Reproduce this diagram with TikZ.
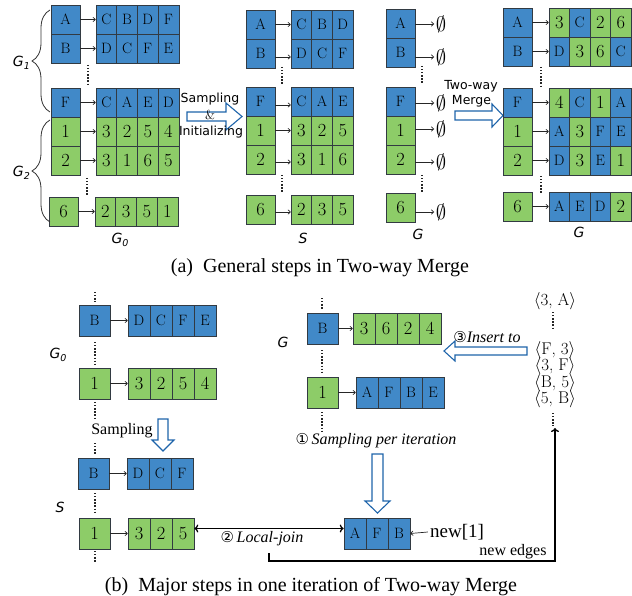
\documentclass[tikz,border=0pt]{standalone}
\usepackage{fontspec}
\newfontfamily\sansf{DejaVu Sans}
\newfontfamily\timesf{Liberation Serif}
\usetikzlibrary{decorations.pathreplacing,arrows.meta}
\definecolor{cb}{RGB}{65,137,200}
\definecolor{cg}{RGB}{141,204,104}
\definecolor{cborder}{RGB}{50,58,66}
\definecolor{ablue}{RGB}{30,100,170}
\newcommand\cellfontb{\fontsize{15}{15}\selectfont}
\newcommand\cellfontg{\fontsize{18.5}{18.5}\selectfont}
\def\kw{29}\def\cw{20.7}\def\bh{29}\def\ash{0}
\newcommand\mkrow[7]{%
 \node[bx, fill=c#4, minimum width=\kw pt] (#1k) at ({#2+\kw/2},{#3+\bh/2}) {\csname cellfont#4\endcsname #5};
 \foreach[count=\i] \c/\t in {#7}{%
   \node[bx, fill=c\c, minimum width=\cw pt] (#1c\i) at ({#6+(\i-0.5)*\cw},{#3+\bh/2}) {\csname cellfont\c\endcsname\t};}
 \draw[arr] ([yshift=-\ash pt]#1k.east) -- ([yshift=-\ash pt]#1c1.west);
}
\newcommand\Glab[1]{{\sansf\itshape\fontsize{14}{14}\selectfont G\raisebox{-3.5pt}{\fontsize{9.5}{9.5}\selectfont #1}}}
\tikzset{
 bx/.style={draw=cborder, line width=0.6pt, inner sep=0pt, minimum height=\bh pt},
 arr/.style={-{To[length=3pt,width=5pt]}, line width=0.7pt, draw=black!85},
 vdots/.style={line width=1.5pt, dash pattern=on 1.3pt off 1.8pt, draw=black!85},
 blk/.style={draw=ablue, line width=1.1pt, fill=white, line join=miter},
 sanst/.style={font=\sansf\fontsize{12.5}{12.5}\selectfont, inner sep=0pt},
 tim/.style={font=\timesf\fontsize{16}{16}\selectfont, inner sep=0pt},
 itl/.style={font=\timesf\itshape\fontsize{16}{16}\selectfont, inner sep=0pt},
 tup/.style={font=\fontsize{17}{17}\selectfont, inner sep=0pt},
 captext/.style={font=\timesf\fontsize{20}{20}\selectfont, inner sep=0pt},
 brc/.style={decorate, decoration={brace, amplitude=18pt}, line width=0.8pt, draw=black!80},
 thk/.style={line width=1.3pt, draw=black},
 circ/.style={font=\sansf\fontsize{15}{15}\selectfont},
}
\newcommand\circn[1]{{\sansf\fontsize{15}{15}\selectfont #1}}
\begin{document}
\begin{tikzpicture}[x=1pt,y=-1pt]
\useasboundingbox (0,0) rectangle (632,596);
% ---------------- panel 1: G0
\mkrow{pa}{51}{5}{b}{A}{96}{b/C,b/B,b/D,b/F}
\mkrow{pb}{51}{34}{b}{B}{96}{b/D,b/C,b/F,b/E}
\mkrow{pf}{51}{88}{b}{F}{96}{b/C,b/A,b/E,b/D}
\mkrow{po}{51}{117}{g}{1}{96}{g/3,g/2,g/5,g/4}
\mkrow{pt}{51}{146}{g}{2}{96}{g/3,g/1,g/6,g/5}
\mkrow{ps}{49}{197}{g}{6}{95}{g/2,g/3,g/5,g/1}
\draw[vdots] (88,65) -- (88,84);
\draw[vdots] (87,178) -- (87,195);
\draw[brc] (50,112) -- (50,10);
\draw[brc] (50,222) -- (50,120);
\node[anchor=east, inner sep=0pt] (g1) at (30,63) {\Glab{1}};
\node[anchor=east, inner sep=0pt] (g2) at (30,173) {\Glab{2}};
\node[inner sep=0pt] (g0) at (120,240) {\Glab{0}};
% ---------------- arrow 1
\draw[blk] (187,112) -- (226,112) -- (226,103) -- (242,116.5) -- (226,130) -- (226,121) -- (187,121) -- cycle;
\node[sanst] (t1) at (210,99) {Sampling};
\node[inner sep=0pt, font=\fontsize{13}{13}\selectfont] (t2) at (210,114.5) {\&};
\node[sanst] (t3) at (211,132) {Initializing};
% ---------------- panel 2: S
\mkrow{qa}{246}{10}{b}{A}{291}{b/C,b/B,b/D}
\def\ash{3.5}
\mkrow{qb}{246}{39}{b}{B}{291}{b/D,b/C,b/F}
\mkrow{qf}{246}{87}{b}{F}{291}{b/C,b/A,b/E}
\def\ash{0}
\mkrow{qo}{246}{116}{g}{1}{291}{g/3,g/2,g/5}
\def\ash{2.5}
\mkrow{qt}{246}{145}{g}{2}{291}{g/3,g/1,g/6}
\mkrow{qs}{246}{195}{g}{6}{291}{g/2,g/3,g/5}
\def\ash{0}
\draw[vdots] (282,67) -- (282,84);
\draw[vdots] (282,175) -- (282,193);
\node[inner sep=0pt] (sl) at (303,238) {{\sansf\itshape\fontsize{14}{14}\selectfont S}};
% ---------------- panel 3: empty G
\foreach \nm/\col/\t/\top/\ey in {a/b/A/9/24, b/b/B/38/57, f/b/F/87/103, o/g/1/116/129, t/g/2/145/162, s/g/6/193/212} {
  \node[bx, fill=c\col, minimum width=\kw pt] (rk\nm) at ({386+\kw/2},{\top+\bh/2}) {\csname cellfont\col\endcsname\t};
  \node[inner sep=0pt] (re\nm) at (441,\ey) {\fontsize{21}{21}\selectfont$\emptyset$};
  \draw[arr, shorten >=1.5pt] (rk\nm.east |- re\nm) -- (re\nm.west);
}
\draw[vdots] (422,66) -- (422,84);
\draw[vdots] (422,175) -- (422,192);
\node[inner sep=0pt] (gl3) at (418,236) {\Glab{}};
% ---------------- arrow 2
\draw[blk] (455,111) -- (492,111) -- (492,104) -- (503,115.5) -- (492,127) -- (492,120) -- (455,120) -- cycle;
\node[sanst] (t4) at (471,86) {Two-way};
\node[sanst] (t5) at (471.5,101) {Merge};
% ---------------- panel 4: merged G
\def\cw{20.5}
\mkrow{sa}{503}{8}{b}{A}{549}{g/3,b/C,g/2,g/6}
\mkrow{sb}{503}{37}{b}{B}{549}{b/D,g/3,g/6,b/C}
\mkrow{sf}{503}{88}{b}{F}{549}{g/4,b/C,g/1,b/A}
\mkrow{so}{503}{117}{g}{1}{549}{b/A,g/3,b/F,b/E}
\mkrow{st}{503}{146}{g}{2}{549}{b/D,g/3,b/E,g/1}
\mkrow{ss}{503}{192}{g}{6}{549}{b/A,b/E,b/D,g/2}
\draw[vdots] (541,67) -- (541,86);
\draw[vdots] (541,176) -- (541,193);
\node[inner sep=0pt] (gl4) at (579,234) {\Glab{}};
% caption a
\node[captext] (capa) at (320,268) {(a)\enspace General steps in Two-way Merge};
% ================= part b
\def\kw{31}\def\cw{22}\def\bh{31}
\mkrow{ub}{79}{305}{b}{B}{128}{b/D,b/C,b/F,b/E}
\mkrow{uo}{79}{368}{g}{1}{128}{g/3,g/2,g/5,g/4}
\mkrow{vb}{78}{458}{b}{B}{127}{b/D,b/C,b/F}
\mkrow{vo}{79}{518}{g}{1}{128}{g/3,g/2,g/5}
\draw[vdots] (95,292) -- (95,302);
\draw[vdots] (95,342) -- (95,364);
\draw[vdots] (95,402) -- (95,420);
\draw[vdots] (95,443) -- (95,455);
\draw[vdots] (95,493) -- (95,513);
\draw[vdots] (95,551) -- (95,563);
\node[inner sep=0pt] (g0b) at (58,355) {\Glab{0}};
\node[inner sep=0pt] (sb) at (60,507) {{\sansf\itshape\fontsize{14}{14}\selectfont S}};
\draw[blk] (158,419) -- (168,419) -- (168,440) -- (174,440) -- (163,451) -- (152,440) -- (158,440) -- cycle;
\node[tim] (sampb) at (122,431) {Sampling};
% G part
\mkrow{wb}{307}{313}{b}{B}{353}{g/3,g/6,g/2,g/4}
\mkrow{wo}{307}{377}{g}{1}{356}{b/A,b/F,b/B,b/E}
\draw[vdots] (322,298) -- (322,310);
\draw[vdots] (322,350) -- (322,372);
\draw[vdots] (322,412) -- (322,431);
\node[inner sep=0pt] (gb) at (283,344) {\Glab{}};
% tuples
\node[tup] (u1) at (555,301) {$\langle$3, A$\rangle$};
\node[tup] (u2) at (555,350) {$\langle$F, 3$\rangle$};
\node[tup] (u3) at (555,366.5) {$\langle$3, F$\rangle$};
\node[tup] (u4) at (555,383) {$\langle$B, 5$\rangle$};
\node[tup] (u5) at (555,399.5) {$\langle$5, B$\rangle$};
\draw[vdots] (553,312) -- (553,330);
\draw[vdots] (553,413) -- (553,426);
% insert arrow
\draw[blk] (527,347) -- (455,347) -- (455,341) -- (444,351) -- (455,361) -- (455,355) -- (527,355) -- cycle;
\node[itl] (ins) at (487,337) {\circn{③}Insert to};
% sampling per iteration
\node[itl] (spi) at (376,441) {\circn{①}\,Sampling per iteration};
\draw[blk] (372,454) -- (383,454) -- (383,501) -- (390,501) -- (377.5,513) -- (365,501) -- (372,501) -- cycle;
% new[1]
\foreach[count=\i] \c/\t in {b/A,b/F,b/B}{%
  \node[bx, fill=c\c, minimum width=\cw pt] (n\i) at ({344+(\i-0.5)*\cw},{518+\bh/2}) {\cellfontb\t};}
\node[font=\timesf\fontsize{19}{19}\selectfont, inner sep=0pt] (newone) at (457,532) {new[1]};
\draw[arr] ([xshift=-2pt]newone.west) -- (n3.east);
% local join
\draw[thk, {To[length=4pt,width=8pt]}-{To[length=4pt,width=8pt]}] ([yshift=5pt]voc3.east) -- ([yshift=5pt]n1.west);
\node[itl] (lj) at (262,539) {\circn{②}\,Local-join};
% new edges
\coordinate (ne0) at (269,553);
\coordinate (ne1) at (555,428);
\draw[thk, -{To[length=4pt,width=8pt]}] (ne0) -- ++(0,8) -| (ne1);
\node[tim] (nel) at (513,552) {new edges};
% caption b
\node[captext] (capb) at (311,587) {(b)\enspace Major steps in one iteration of Two-way Merge};
\end{tikzpicture}
\end{document}
